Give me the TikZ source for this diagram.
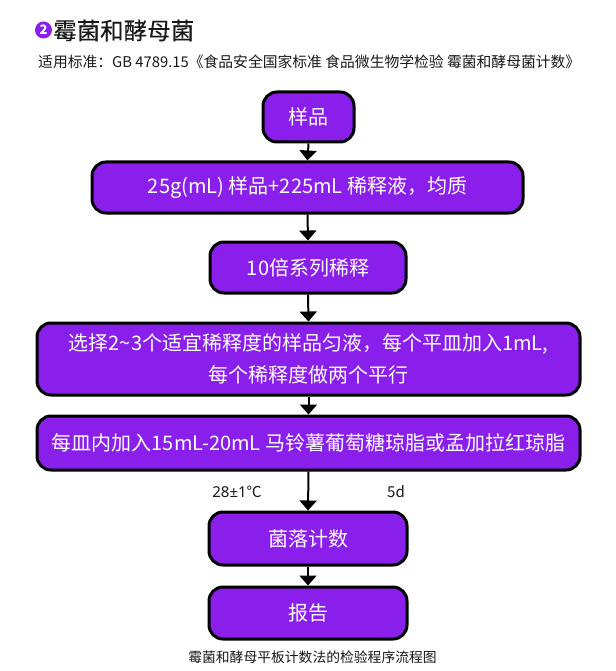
\documentclass[tikz,border=0pt]{standalone}
\usepackage{fontspec}
\setmainfont{Noto Sans CJK SC}
\newfontfamily\titlefont{Noto Sans CJK SC}[FakeBold=0.3]
\newfontfamily\latinfont{Noto Sans}
\usetikzlibrary{arrows.meta}
\definecolor{boxpurple}{RGB}{138,30,235}
\definecolor{txtdark}{RGB}{25,25,25}
\begin{document}
\begin{tikzpicture}[x=1pt,y=-1pt,
  flowbox/.style={draw=black,line width=3pt,fill=boxpurple,rounded corners=14pt,
    text=white,inner sep=0pt,align=center,font=\fontsize{20}{32}\selectfont},
  flowarrow/.style={line width=2pt,-{Triangle[width=17pt,length=10pt]}},
  sidelabel/.style={font=\fontsize{15}{18}\selectfont,text=txtdark,inner sep=0pt}]
\useasboundingbox[fill=white] (0,0) rectangle (615,671);
% title
\node[circle,fill=boxpurple,minimum size=17pt,inner sep=0pt,text=white,
  font=\fontsize{13}{13}\selectfont\bfseries] (num) at (43.5,30) {2};
\node[anchor=west,inner sep=0pt,text=txtdark,font=\titlefont\fontsize{23.5}{24}\selectfont] (title) at (53,30.5) {霉菌和酵母菌};
\node[anchor=west,inner sep=0pt,text=txtdark,font=\fontsize{14.8}{16}\selectfont] (sub) at (38,62)
  {适用标准：GB 4789.15《食品安全国家标准 食品微生物学检验 霉菌和酵母菌计数》};
% boxes
\node[flowbox,minimum width=91pt,minimum height=50pt] (b1) at (308.5,117) {样品};
\node[flowbox,minimum width=431pt,minimum height=51pt] (b2) at (307.5,187.5) {25g(mL) 样品+225mL 稀释液，均质};
\node[flowbox,minimum width=196pt,minimum height=51pt] (b3) at (308,267.5) {10倍系列稀释};
\node[flowbox,minimum width=543pt,minimum height=72pt] (b4) at (308.5,359) {选择2\textasciitilde3个适宜稀释度的样品匀液，每个平皿加入1mL,\\每个稀释度做两个平行};
\node[flowbox,minimum width=543pt,minimum height=54pt] (b5) at (308.5,443) {每皿内加入15mL-20mL 马铃薯葡萄糖琼脂或孟加拉红琼脂};
\node[flowbox,minimum width=198pt,minimum height=53pt] (b6) at (308,538.5) {菌落计数};
\node[flowbox,minimum width=198pt,minimum height=52pt] (b7) at (308,613) {报告};
% arrows
\draw[flowarrow] (b1.south) -- (b2.north);
\draw[flowarrow] (b2.south) -- (b3.north);
\draw[flowarrow] (b3.south) -- (b4.north);
\draw[flowarrow] (b4.south) -- (b5.north);
\draw[flowarrow] (b5.south) -- (b6.north);
\draw[flowarrow] (b6.south) -- (b7.north);
% labels
\node[sidelabel] (temp) at (237,492) {{\latinfont 28±1}℃};
\node[sidelabel] (days) at (396,492) {5d};
% caption
\node[inner sep=0pt,text=txtdark,font=\fontsize{13.8}{16}\selectfont] (cap) at (312.5,657.5) {霉菌和酵母平板计数法的检验程序流程图};
\end{tikzpicture}
\end{document}
